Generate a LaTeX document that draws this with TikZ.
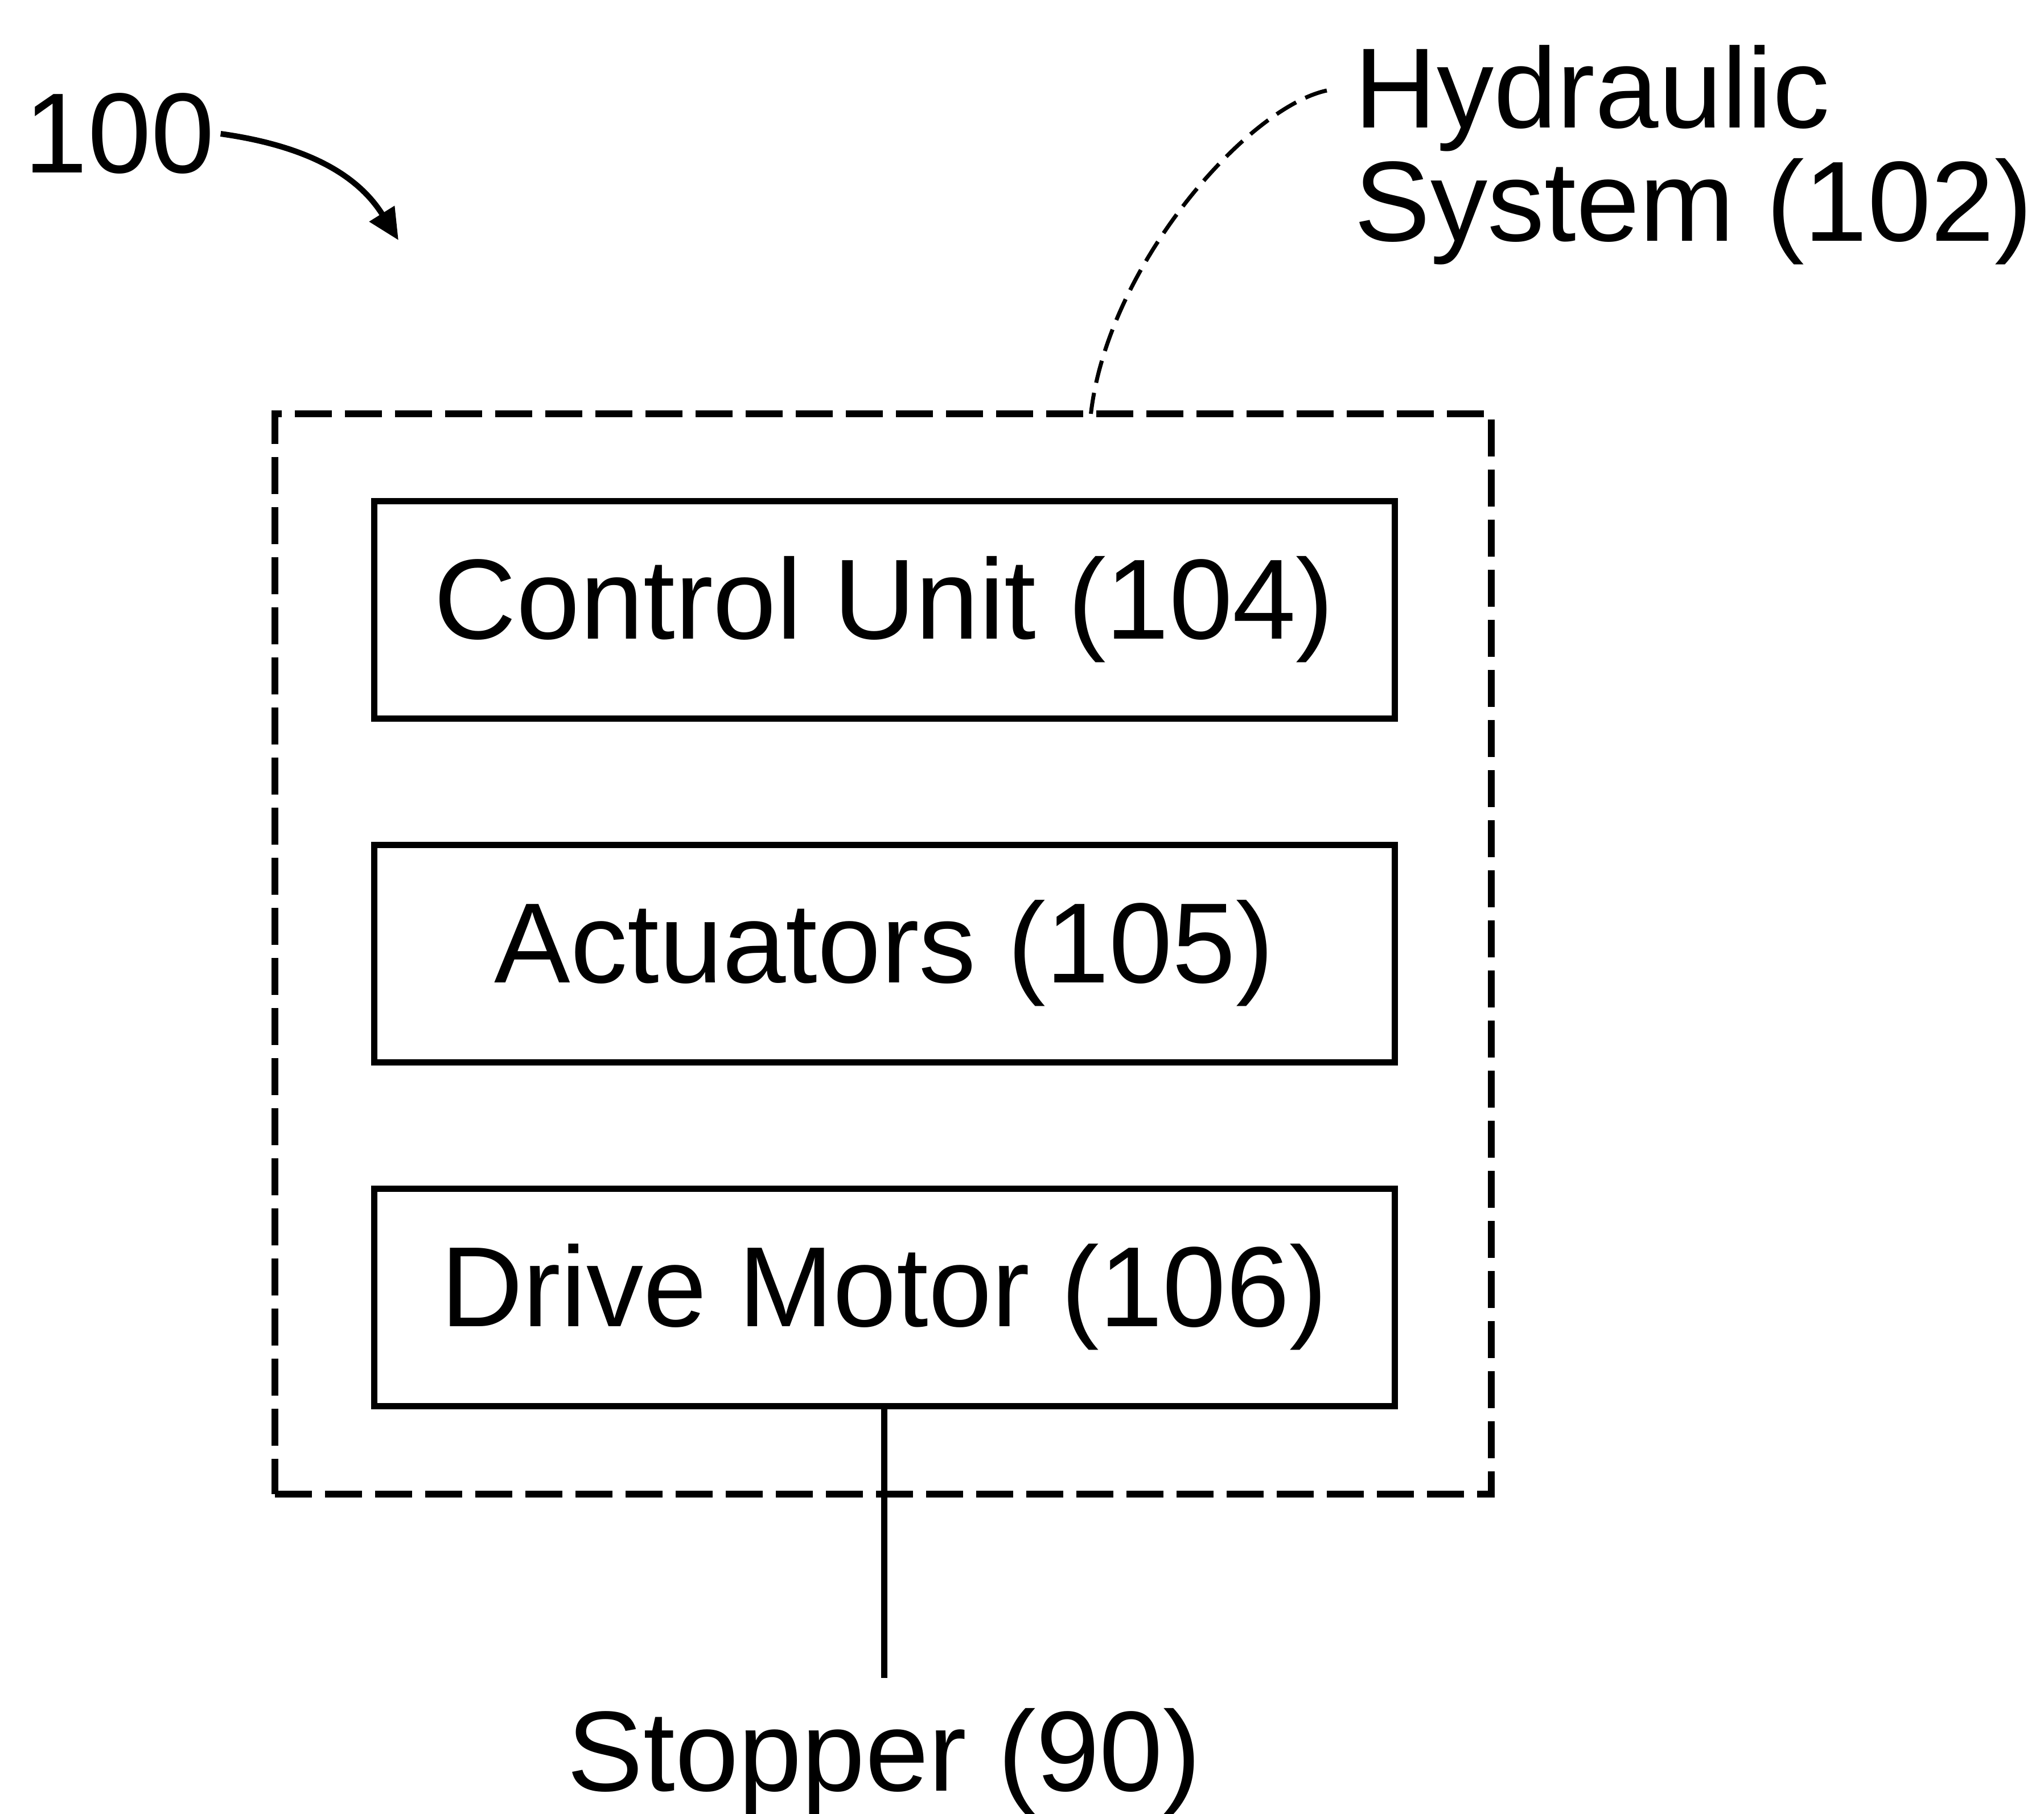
\documentclass[tikz,border=0pt]{standalone}
\usepackage{fontspec}
\setmainfont{Liberation Sans}
\usetikzlibrary{positioning,arrows.meta}

\begin{document}
\begin{tikzpicture}[
  big/.style={font=\fontsize{57}{56.5}\selectfont},
  unit/.style={draw, big, line width=0.11cm, minimum width=17.93cm, minimum height=3.82cm, inner sep=0pt, outer sep=0pt},
  pointer/.style={line width=0.1cm, -{Triangle[length=0.55cm,width=0.5cm]}},
  leader/.style={line width=0.07cm, dash pattern=on 0.4cm off 0.18cm}
]
\useasboundingbox (0,0) rectangle (35.91,-31.87);
% hydraulic system outline
\node [draw, line width=0.12cm, dash pattern=on 0.65cm off 0.23cm, minimum width=21.37cm, minimum height=18.98cm, outer sep=0pt] (hyd) at (15.515,-16.76) {};
% parts
\node [unit] (cu) at (15.535,-10.71) {Control Unit (104)};
\node [unit, below=2.22cm of cu] (act) {Actuators (105)};
\node [unit, below=2.22cm of act] (dm) {Drive Motor (106)};
% labels
\node [big, inner sep=0pt, anchor=base west] (fig) at (0.42,-3.04) {100};
\node [big, inner sep=0pt, anchor=north west, align=left] (hydlbl) at (23.79,-0.79) {Hydraulic\\System (102)};
\node [big, inner sep=0pt, anchor=base] (stop) at (15.535,-31.46) {Stopper (90)};
\coordinate (stopy) at (0,-29.48);
\coordinate (figtip) at (7.0,-4.22);
\draw [line width=0.11cm] (dm.south) -- (dm.south |- stopy);
\draw [pointer] ([xshift=0.1cm]fig.east) to[out=-8,in=122] (figtip);
\draw [leader] ([xshift=-0.48cm,yshift=-0.8cm]hydlbl.north west) .. controls +(-1.4,-0.3) and +(0.3,2.6) .. ([xshift=3.65cm]hyd.north);
\end{tikzpicture}
\end{document}
